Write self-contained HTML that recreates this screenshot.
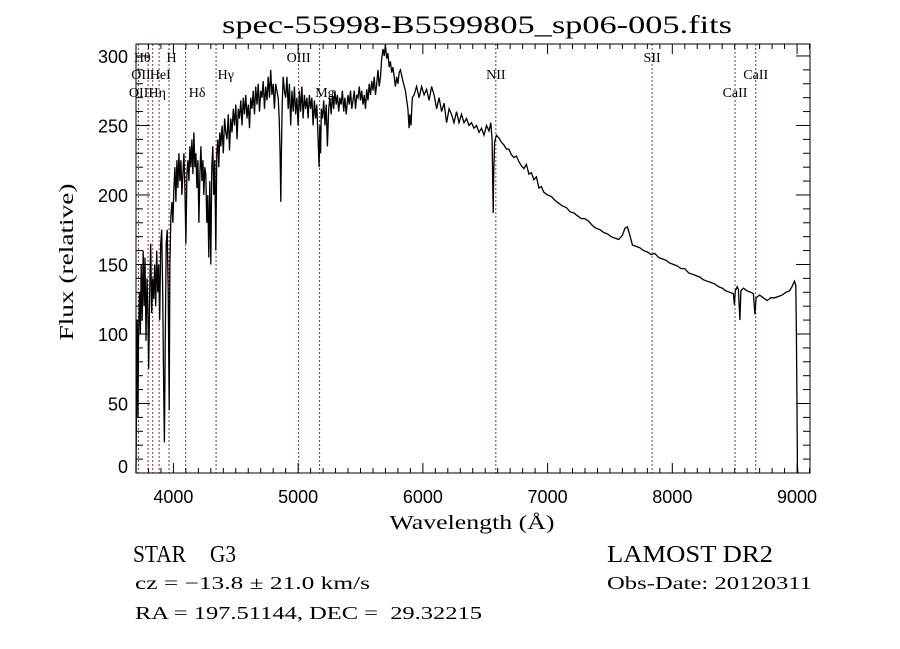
<!DOCTYPE html>
<html><head><meta charset="utf-8"><style>
html,body{margin:0;padding:0;background:#fff;}
svg{display:block;}
</style></head><body>
<svg id="chart" width="900" height="649" viewBox="0 0 900 649" xmlns="http://www.w3.org/2000/svg">
<rect x="0" y="0" width="900" height="649" fill="#fff"/>
<text x="477" y="33" text-anchor="middle" font-family="Liberation Serif, serif" font-size="25" textLength="510" lengthAdjust="spacingAndGlyphs">spec-55998-B5599805_sp06-005.fits</text>
<text x="0" y="0" transform="translate(73,262) rotate(-90)" text-anchor="middle" font-family="Liberation Serif, serif" font-size="20" textLength="157" lengthAdjust="spacingAndGlyphs">Flux (relative)</text>
<text x="472" y="529" text-anchor="middle" font-family="Liberation Serif, serif" font-size="20" textLength="165" lengthAdjust="spacingAndGlyphs">Wavelength (Å)</text>
<text x="133" y="562" font-family="Liberation Serif, serif" font-size="24" textLength="53" lengthAdjust="spacingAndGlyphs">STAR</text>
<text x="210" y="562" font-family="Liberation Serif, serif" font-size="24" textLength="26" lengthAdjust="spacingAndGlyphs">G3</text>
<text x="607" y="562" font-family="Liberation Serif, serif" font-size="24" textLength="166" lengthAdjust="spacingAndGlyphs">LAMOST DR2</text>
<text x="135" y="589" font-family="Liberation Serif, serif" font-size="18" textLength="235" lengthAdjust="spacingAndGlyphs">cz = −13.8 ± 21.0 km/s</text>
<text x="607" y="589" font-family="Liberation Serif, serif" font-size="18" textLength="205" lengthAdjust="spacingAndGlyphs">Obs-Date: 20120311</text>
<text x="135" y="619" font-family="Liberation Serif, serif" font-size="18" textLength="347" lengthAdjust="spacingAndGlyphs" xml:space="preserve">RA = 197.51144, DEC =  29.32215</text>
<g id="plot"></g>
</svg>
<script>
const xTicks = [4000, 5000, 6000, 7000, 8000, 9000];
const yTicks = [0, 50, 100, 150, 200, 250, 300];
const lineWaves = [3719, 3797, 3834, 3885, 3965, 4098, 4342, 5004, 5172, 6585, 7838, 8503, 8669];
const lineLabels = [
  {t:"Hθ", w:3750, row:0}, {t:"H", w:3985, row:0}, {t:"OII", w:3740, row:1}, {t:"HeI", w:3895, row:1},
  {t:"OIII", w:3740, row:2}, {t:"Hη", w:3870, row:2}, {t:"Hδ", w:4190, row:2}, {t:"Hγ", w:4420, row:1},
  {t:"OIII", w:5004, row:0}, {t:"Mg", w:5215, row:2}, {t:"NII", w:6585, row:1}, {t:"SII", w:7838, row:0},
  {t:"CaII", w:8503, row:2}, {t:"CaII", w:8669, row:1}
];
const waves = [3700,3705,3710,3715,3720,3728,3735,3742,3750,3758,3765,3772,3780,3788,3795,3802,3810,3818,3826,3834,3842,3850,3858,3866,3874,3882,3890,3898,3906,3914,3922,3928,3934,3942,3950,3958,3966,3972,3980,3988,3996,4004,4012,4020,4028,4036,4044,4052,4060,4068,4076,4084,4092,4100,4108,4116,4124,4132,4140,4148,4156,4164,4172,4180,4188,4196,4204,4212,4220,4228,4236,4244,4252,4260,4268,4276,4284,4292,4300,4308,4316,4324,4332,4340,4348,4356,4364,4372,4380,4390,4400,4410,4420,4430,4440,4450,4460,4470,4480,4490,4500,4510,4520,4530,4540,4550,4560,4570,4580,4590,4600,4610,4620,4630,4640,4650,4660,4670,4680,4690,4700,4710,4720,4730,4740,4750,4760,4770,4780,4790,4800,4810,4820,4830,4840,4848,4855,4861,4866,4872,4880,4890,4900,4910,4920,4930,4940,4950,4960,4970,4980,4990,5000,5010,5020,5030,5040,5050,5060,5070,5080,5090,5100,5110,5120,5130,5140,5150,5160,5168,5174,5180,5186,5195,5205,5215,5225,5235,5245,5255,5265,5275,5285,5295,5305,5315,5325,5335,5345,5355,5365,5375,5385,5400,5410,5420,5430,5440,5450,5460,5470,5480,5490,5500,5510,5520,5530,5540,5550,5560,5570,5580,5590,5600,5610,5620,5630,5640,5650,5660,5670,5680,5690,5700,5710,5720,5730,5740,5750,5760,5770,5780,5790,5800,5810,5820,5840,5860,5880,5890,5896,5905,5915,5930,5950,5970,5990,6010,6030,6050,6070,6090,6110,6130,6150,6170,6190,6210,6230,6250,6270,6290,6310,6330,6350,6370,6390,6410,6430,6450,6470,6490,6510,6530,6545,6555,6560,6564,6568,6575,6590,6610,6630,6650,6670,6690,6710,6730,6750,6770,6790,6810,6830,6850,6870,6890,6910,6930,6950,6970,7000,7030,7060,7090,7120,7150,7180,7210,7240,7270,7300,7330,7360,7390,7420,7450,7480,7510,7540,7570,7600,7620,7640,7660,7680,7710,7740,7770,7800,7830,7860,7890,7920,7950,7980,8010,8040,8070,8100,8130,8160,8190,8220,8250,8280,8310,8340,8370,8400,8430,8460,8490,8498,8505,8520,8530,8542,8550,8570,8600,8630,8650,8662,8672,8700,8730,8760,8790,8820,8850,8880,8910,8940,8960,8980,8990,8995,9000,9003,9006];
const flux = [0,60,110,40,95,130,100,150,110,160,120,155,95,140,120,75,130,165,115,140,125,150,120,160,130,150,110,165,175,130,60,22,90,165,175,130,45,150,185,195,180,205,220,195,225,205,230,210,225,200,215,230,205,165,215,225,210,235,220,240,215,245,220,230,205,225,180,215,235,210,225,200,220,215,180,200,155,210,150,220,235,200,225,160,230,240,220,245,235,250,230,255,245,240,258,232,255,245,262,250,265,240,262,255,268,250,270,258,272,255,265,248,270,262,275,258,278,265,280,260,275,270,282,262,278,268,285,270,290,272,280,262,280,275,270,255,230,195,230,265,285,275,270,285,262,280,250,275,260,278,258,270,250,275,260,278,255,272,262,270,255,272,262,270,250,268,255,265,240,220,250,230,262,255,268,250,265,235,262,270,258,272,262,275,265,272,260,270,265,275,260,270,258,272,265,275,262,268,275,262,272,270,278,268,275,265,272,262,276,268,280,272,282,275,285,272,280,290,278,285,298,305,300,308,298,302,292,296,288,292,285,278,285,280,288,290,282,275,262,248,258,250,270,272,278,270,278,272,276,268,278,272,262,270,260,266,252,262,258,252,260,252,258,252,255,250,252,248,250,245,248,243,250,246,252,240,210,187,215,238,243,241,238,236,233,233,229,227,228,224,221,219,222,215,216,211,213,205,206,202,200,199,196,194,192,191,188,187,185,183,183,181,178,176,175,173,172,170,169,168,171,176,177,171,164,163,162,160,159,157,158,155,154,153,151,150,149,147,147,144,143,142,141,139,138,137,136,134,133,131,130,129,121,131,134,132,110,131,133,131,130,129,114,126,128,126,124,126,126,127,128,130,131,134,138,135,100,48,5,0];

const NS = "http://www.w3.org/2000/svg";
const L = 136, R = 810, T = 44, B = 473;
const X0 = 3700, X1 = 9104, Y0 = 0, Y1 = 308.6;
function xs(w){ return L + (w - X0) / (X1 - X0) * (R - L); }
function ys(f){ return B - (f - Y0) / (Y1 - Y0) * (B - T); }
const plot = document.getElementById('plot');
function mk(tag, attrs){ const e = document.createElementNS(NS, tag); for (const k in attrs) e.setAttribute(k, attrs[k]); plot.appendChild(e); return e; }

lineWaves.forEach(w => {
  const e = mk('line', {x1: xs(w), x2: xs(w), y1: T, y2: B, stroke: '#8b2a2a', 'stroke-width': 1, 'stroke-dasharray': '2,2'});
  
  
});
const rowY = [62, 79, 97];
lineLabels.forEach(lb => {
  const e = mk('text', {x: xs(lb.w), y: rowY[lb.row], 'text-anchor': 'middle', 'font-family': 'Liberation Serif, serif', 'font-size': 14});
  e.textContent = lb.t;
  
  
});

let d = '';
for (let i = 0; i < waves.length; i++) {
  const x = xs(waves[i]).toFixed(1), y = ys(flux[i]).toFixed(1);
  d += (i === 0 ? 'M' : 'L') + x + ',' + y;
}
const sp = mk('path', {d: d, fill: 'none', stroke: '#000', 'stroke-width': 1.3});



const fr = mk('rect', {x: L, y: T, width: R - L, height: B - T, fill: 'none', stroke: '#000', 'stroke-width': 1});



for (let w = 3800; w <= 9100; w += 100) {
  const big = (w % 1000 === 0);
  const len = big ? 10 : 5;
  const t1 = mk('line', {x1: xs(w), x2: xs(w), y1: B, y2: B - len, stroke: '#000', 'stroke-width': 1});
  
  
  const t2 = mk('line', {x1: xs(w), x2: xs(w), y1: T, y2: T + len, stroke: '#000', 'stroke-width': 1});
  
  
}
xTicks.forEach(w => {
  const e = mk('text', {x: xs(w), y: 503, 'text-anchor': 'middle', 'font-family': 'Liberation Sans, sans-serif', 'font-size': 18});
  e.textContent = w;
  
  
});
for (let f = 0; f <= 300; f += 10) {
  const big = (f % 50 === 0);
  const len = big ? 14 : 7;
  const t1 = mk('line', {x1: L, x2: L + len, y1: ys(f), y2: ys(f), stroke: '#000', 'stroke-width': 1});
  
  
  const t2 = mk('line', {x1: R, x2: R - len, y1: ys(f), y2: ys(f), stroke: '#000', 'stroke-width': 1});
  
  
}
yTicks.forEach(f => {
  const y = Math.min(ys(f) + 7, 473);
  const e = mk('text', {x: 128, y: y, 'text-anchor': 'end', 'font-family': 'Liberation Sans, sans-serif', 'font-size': 18});
  e.textContent = f;
  
  
});
</script>
</body></html>
